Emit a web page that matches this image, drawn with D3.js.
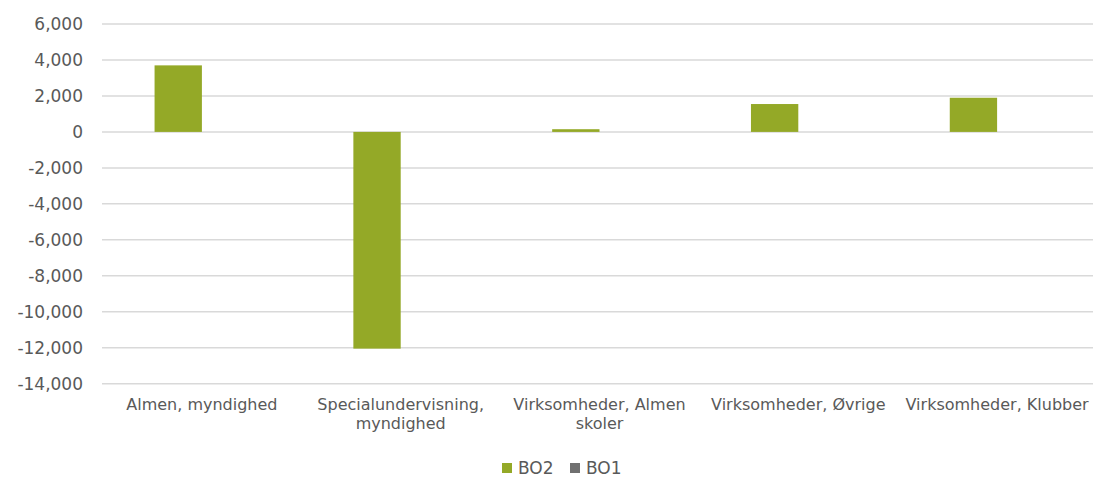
<!DOCTYPE html>
<html>
<head>
<meta charset="utf-8">
<script src="https://cdn.jsdelivr.net/npm/d3@7"></script>
<style>
  body { margin: 0; background: #fff; }
  text { font-family: "DejaVu Sans", Verdana, sans-serif; fill: #595959; }
</style>
</head>
<body>
<div id="chart"></div>
<script>
var categories = ["Almen, myndighed", "Specialundervisning, myndighed", "Virksomheder, Almen skoler", "Virksomheder, Øvrige", "Virksomheder, Klubber"];
var series = ["BO2", "BO1"];
var bo2 = [3700, -12050, 150, 1550, 1900];
var bo1 = [0, 0, 0, 0, 0];
var yTicks = [6000, 4000, 2000, 0, -2000, -4000, -6000, -8000, -10000, -12000, -14000];
var colors = { BO2: "#94a927", BO1: "#707070" };

var w = 1093, h = 477;
var svg = d3.select("#chart").append("svg").attr("width", w).attr("height", h);

var x0 = d3.scaleBand().domain(categories).range([102.5, 1096.5]);
var x1 = d3.scaleBand().domain(series).range([0, x0.bandwidth()]).paddingOuter(1.1);
var y = d3.scaleLinear().domain([-14000, 6000]).range([383.7, 24]);

var fmt = function (d) { return d3.format(",")(d).replace("\u2212", "-"); };

// gridlines
svg.append("g")
    .selectAll("line")
    .data(yTicks)
    .join("line")
    .attr("x1", 102)
    .attr("x2", w)
    .attr("y1", function (d) { return y(d); })
    .attr("y2", function (d) { return y(d); })
    .attr("stroke", "#d9d9d9")
    .attr("stroke-width", 1.5);

// y labels
svg.append("g")
    .selectAll("text")
    .data(yTicks)
    .join("text")
    .attr("x", 83)
    .attr("y", function (d) { return y(d); })
    .attr("dy", "0.36em")
    .attr("text-anchor", "end")
    .style("font-size", "17px")
    .text(function (d) { return fmt(d); });

// bars
var data = categories.map(function (c, i) {
    return { cat: c, vals: [{ s: "BO2", v: bo2[i] }, { s: "BO1", v: bo1[i] }] };
});

svg.append("g")
    .selectAll("g")
    .data(data)
    .join("g")
    .attr("transform", function (d) { return "translate(" + x0(d.cat) + ",0)"; })
    .selectAll("rect")
    .data(function (d) { return d.vals; })
    .join("rect")
    .attr("x", function (d) { return x1(d.s); })
    .attr("width", x1.bandwidth())
    .attr("y", function (d) { return y(Math.max(0, d.v)); })
    .attr("height", function (d) { return Math.abs(y(d.v) - y(0)); })
    .attr("fill", function (d) { return colors[d.s]; });

// category labels
var maxW = 196;
var labels = svg.append("g")
    .selectAll("text")
    .data(categories)
    .join("text")
    .attr("x", function (d) { return x0(d) + x0.bandwidth() / 2; })
    .attr("y", 410)
    .attr("text-anchor", "middle")
    .style("font-size", "16px")
    .text(function (d) { return d; });

labels.each(function (d) {
    var t = d3.select(this);
    var words = d.split(" ");
    if (this.getComputedTextLength() <= maxW) return;
    t.text(null);
    var line = [], tspan = t.append("tspan").attr("x", t.attr("x")).attr("dy", 0);
    words.forEach(function (wd) {
        line.push(wd);
        tspan.text(line.join(" "));
        if (tspan.node().getComputedTextLength() > maxW && line.length > 1) {
            line.pop();
            tspan.text(line.join(" "));
            line = [wd];
            tspan = t.append("tspan").attr("x", t.attr("x")).attr("dy", "1.2em").text(wd);
        }
    });
});

// legend
var leg = svg.append("g").attr("transform", "translate(502,463)");
var li = leg.selectAll("g")
    .data(series)
    .join("g")
    .attr("transform", function (d, i) { return "translate(" + (i * 68) + ",0)"; });
li.append("rect").attr("width", 10).attr("height", 10).attr("fill", function (d) { return colors[d]; });
li.append("text")
    .attr("x", 16)
    .attr("y", 5)
    .attr("dy", "0.36em")
    .style("font-size", "17px")
    .text(function (d) { return d; });
</script>
</body>
</html>
